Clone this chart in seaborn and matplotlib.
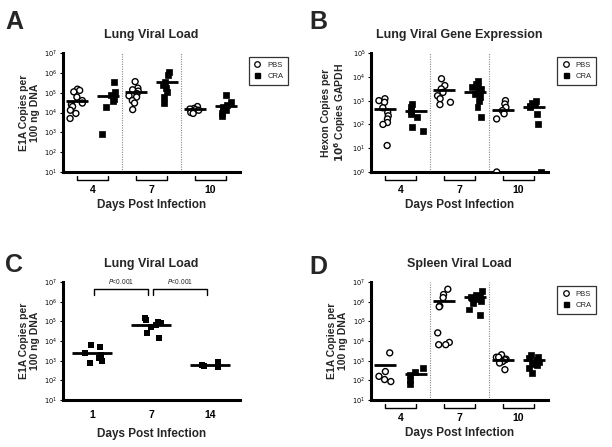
import numpy as np
import pandas as pd
import matplotlib
matplotlib.use("Agg")
import matplotlib.pyplot as plt
import seaborn as sns
from matplotlib.lines import Line2D
from matplotlib.ticker import LogLocator, FuncFormatter, NullLocator

sns.set_theme(style="ticks")
plt.rcParams["font.family"] = ["Liberation Sans", "DejaVu Sans"]
np.random.seed(3)  # only for horizontal jitter of the points

# ---------------- data ----------------
days_abd = ["4", "7", "10"]
days_c = ["1", "7", "14"]
groups = ["PBS", "CRA"]

# Panel A: Lung viral load (E1A copies / 100 ng DNA)
a_pbs_4 = [1.5e5, 1.3e5, 1.1e5, 6e4, 4e4, 3e4, 2.5e4, 2e4, 1.3e4, 9e3, 5e3]
a_cra_4 = [3.5e5, 1.1e5, 7.5e4, 5e4, 4e4, 2e4, 8e2]
a_pbs_7 = [3.6e5, 1.7e5, 1.4e5, 1.2e5, 9e4, 7e4, 6e4, 4e4, 3e4, 1.4e4]
a_cra_7 = [1.05e6, 8e5, 3.6e5, 2.5e5, 1.7e5, 1.1e5, 6e4, 3e4]
a_pbs_10 = [2e4, 1.6e4, 1.5e4, 1.4e4, 1.3e4, 1.1e4, 1e4, 9e3]
a_cra_10 = [8e4, 3.5e4, 2.3e4, 2e4, 1.5e4, 1.3e4, 9e3, 7e3]
a_mean_pbs = [4e4, 1.1e5, 1.5e4]
a_mean_cra = [7e4, 3.6e5, 2.1e4]

# Panel B: Lung viral gene expression (Hexon copies / 10^6 copies GAPDH); zeros drawn at 10^0
b_pbs_4 = [1.2e3, 1e3, 8.5e2, 5e2, 3.2e2, 2.3e2, 1.7e2, 1.2e2, 1e2, 1.3e1]
b_cra_4 = [7e2, 5.6e2, 3.8e2, 2.8e2, 2e2, 7.5e1, 5.4e1]
b_pbs_7 = [8.3e3, 4.3e3, 3.1e3, 2.2e3, 1.6e3, 1.2e3, 8.5e2, 6.8e2]
b_cra_7 = [7e3, 5e3, 4e3, 3.6e3, 3e3, 2.6e3, 2.2e3, 1.9e3, 1.4e3, 1e3, 5.2e2, 2e2]
b_pbs_10 = [1e3, 7.2e2, 5.2e2, 3.8e2, 2.8e2, 1.7e2, 1.0]
b_cra_10 = [1e3, 8e2, 7.2e2, 6e2, 5.2e2, 2.8e2, 1e2, 1.0]
b_mean_pbs = [4.5e2, 2.8e3, 4e2]
b_mean_cra = [3.8e2, 2.2e3, 5.2e2]

# Panel C: Lung viral load, single group
c_1 = [6e3, 5e3, 2.5e3, 2e3, 1.3e3, 1e3, 8e2]
c_7 = [1.4e5, 1.15e5, 9.5e4, 8e4, 6.3e4, 5.2e4, 2.6e4, 1.35e4]
c_14 = [9e2, 6e2, 5.5e2, 4.9e2]
c_mean = [2.6e3, 6.9e4, 6e2]
c_pvals = ["P<0.001", "P<0.001"]

# Panel D: Spleen viral load
d_pbs_4 = [2.5e3, 2.8e2, 1.6e2, 1.1e2, 8.7e1]
d_cra_4 = [4.2e2, 2.8e2, 1.9e2, 1.1e2, 6.6e1]
d_pbs_7 = [4.3e6, 2.3e6, 1.6e6, 6e5, 5.5e5, 2.6e4, 8.5e3, 6.5e3, 6.5e3]
d_cra_7 = [3.5e6, 2.3e6, 2e6, 1.8e6, 1.5e6, 1.3e6, 1.1e6, 8.7e5, 4e5, 2e5]
d_pbs_10 = [2e3, 1.5e3, 1.5e3, 1.2e3, 1.1e3, 9e2, 7.6e2, 3.5e2]
d_cra_10 = [2e3, 1.5e3, 1.3e3, 1.1e3, 9e2, 8.1e2, 7e2, 6.2e2, 4.2e2, 2.3e2]
d_mean_pbs = [6.2e2, 1.07e6, 1.1e3]
d_mean_cra = [2.1e2, 1.7e6, 1.1e3]

GAP = " "
HUE = ["PBS", GAP, "CRA"]
OFF = 0.267


def long_df(pbs_lists, cra_lists, days):
    rows = []
    for d, pl, cl in zip(days, pbs_lists, cra_lists):
        rows += [(d, "PBS", v) for v in pl]
        rows += [(d, "CRA", v) for v in cl]
    return pd.DataFrame(rows, columns=["day", "group", "value"])


def mean_df(mp, mc, days):
    rows = [(d, "PBS", v) for d, v in zip(days, mp)] + [(d, "CRA", v) for d, v in zip(days, mc)]
    return pd.DataFrame(rows, columns=["day", "group", "value"])


def fmt_log(v, pos):
    return r"$10^{%d}$" % int(round(np.log10(v)))


def style_axes(ax, ylo, yhi, days, xpad):
    ax.set_ylim(10.0 ** ylo, 10.0 ** yhi)
    ax.set_xlim(-0.5, len(days) - 0.5)
    ax.yaxis.set_major_locator(LogLocator(base=10, numticks=20))
    ax.yaxis.set_minor_locator(NullLocator())
    ax.yaxis.set_major_formatter(FuncFormatter(fmt_log))
    sns.despine(ax=ax)
    for s in ["left", "bottom"]:
        ax.spines[s].set_linewidth(2.2)
        ax.spines[s].set_color("black")
    ax.tick_params(axis="y", labelsize=4.8, length=2.5, width=0.8, pad=1.5, colors="black")
    ax.tick_params(axis="x", labelsize=7.5, length=0, pad=xpad, colors="black")
    for t in ax.get_xticklabels():
        t.set_fontweight("bold")
    ax.set_xlabel("Days Post Infection", fontsize=8.5, fontweight="bold", labelpad=3)


def grouped_panel(ax, df, mdf, ylo, yhi, ylabel, title):
    pal = {"PBS": "white", GAP: "white", "CRA": "black"}
    sns.stripplot(data=df[df.group == "PBS"], x="day", y="value", hue="group",
                  hue_order=HUE, order=days_abd, dodge=True, jitter=0.36, palette=pal,
                  marker="o", size=4.3, edgecolor="black", linewidth=1.0,
                  legend=False, ax=ax, log_scale=True)
    sns.stripplot(data=df[df.group == "CRA"], x="day", y="value", hue="group",
                  hue_order=HUE, order=days_abd, dodge=True, jitter=0.36, palette=pal,
                  marker="s", size=4.3, edgecolor="black", linewidth=0.5,
                  legend=False, ax=ax, log_scale=True)
    sns.stripplot(data=mdf, x="day", y="value", hue="group", hue_order=HUE,
                  order=days_abd, dodge=True, jitter=False, marker="_", size=16,
                  palette={"PBS": "black", GAP: "black", "CRA": "black"},
                  linewidth=2, legend=False, ax=ax, log_scale=True, zorder=5)
    style_axes(ax, ylo, yhi, days_abd, 9)
    for xv in [0.5, 1.5]:
        ax.axvline(xv, ls=(0, (1, 1.2)), color="#888888", lw=0.8, zorder=0)
    trans = ax.get_xaxis_transform()
    for i in range(len(days_abd)):
        ax.plot([i - OFF, i - OFF, i + OFF, i + OFF], [-0.03, -0.065, -0.065, -0.03],
                transform=trans, color="black", lw=1.0, clip_on=False)
    ax.set_ylabel(ylabel, fontsize=7.5, fontweight="bold", linespacing=1.1, labelpad=3)
    ax.set_title(title, fontsize=9, fontweight="bold", pad=11)
    handles = [Line2D([], [], marker="o", ls="", mfc="white", mec="black", mew=0.9, ms=4),
               Line2D([], [], marker="s", ls="", mfc="black", mec="black", ms=3.6)]
    leg = ax.legend(handles, groups, loc="upper left", bbox_to_anchor=(1.03, 1.0),
                    fontsize=5.5, frameon=True, fancybox=False, edgecolor="black",
                    handlelength=1.0, handletextpad=0.8, borderpad=0.6, labelspacing=0.5)
    leg.get_frame().set_linewidth(0.9)


fig = plt.figure(figsize=(6.12, 4.47), dpi=100)
axA = fig.add_axes([0.1029, 0.6152, 0.2892, 0.2662])
axB = fig.add_axes([0.6062, 0.6152, 0.2892, 0.2662])
axC = fig.add_axes([0.1029, 0.1051, 0.2892, 0.2640])
axD = fig.add_axes([0.6062, 0.1051, 0.2892, 0.2640])

grouped_panel(axA, long_df([a_pbs_4, a_pbs_7, a_pbs_10], [a_cra_4, a_cra_7, a_cra_10], days_abd),
              mean_df(a_mean_pbs, a_mean_cra, days_abd), 1, 7,
              "E1A Copies per\n100 ng DNA", "Lung Viral Load")
grouped_panel(axB, long_df([b_pbs_4, b_pbs_7, b_pbs_10], [b_cra_4, b_cra_7, b_cra_10], days_abd),
              mean_df(b_mean_pbs, b_mean_cra, days_abd), 0, 5,
              "Hexon Copies per\n$\\mathbf{10^6}$ Copies GAPDH", "Lung Viral Gene Expression")
grouped_panel(axD, long_df([d_pbs_4, d_pbs_7, d_pbs_10], [d_cra_4, d_cra_7, d_cra_10], days_abd),
              mean_df(d_mean_pbs, d_mean_cra, days_abd), 1, 7,
              "E1A Copies per\n100 ng DNA", "Spleen Viral Load")

# Panel C
dfc = pd.DataFrame([(d, v) for d, vals in zip(days_c, [c_1, c_7, c_14]) for v in vals],
                   columns=["day", "value"])
mdc = pd.DataFrame({"day": days_c, "value": c_mean})
sns.stripplot(data=dfc, x="day", y="value", order=days_c, color="black", marker="s",
              jitter=0.18, size=4.5, linewidth=0, ax=axC, log_scale=True)
sns.stripplot(data=mdc, x="day", y="value", order=days_c, jitter=False, marker="_",
              size=29, color="black", linewidth=2, ax=axC, log_scale=True, zorder=5)
style_axes(axC, 1, 7, days_c, 7)
axC.set_ylabel("E1A Copies per\n100 ng DNA", fontsize=7.5, fontweight="bold",
               linespacing=1.1, labelpad=3)
axC.xaxis.labelpad = 6
axC.set_title("Lung Viral Load", fontsize=9, fontweight="bold", pad=11)
for i, p in enumerate(c_pvals):
    x0, x1 = i + 0.03, i + 0.94
    axC.plot([x0, x0, x1, x1], [10 ** 6.34, 10 ** 6.64, 10 ** 6.64, 10 ** 6.34],
             color="black", lw=1.0, clip_on=False)
    axC.text((x0 + x1) / 2, 10 ** 6.82, "$\\it{P}$" + p[1:], ha="center", va="bottom",
             fontsize=4.8)

# panel letters
for lab, x, y in [("A", 0.008, 0.95), ("B", 0.505, 0.95), ("C", 0.008, 0.407), ("D", 0.505, 0.403)]:
    fig.text(x, y, lab, fontsize=18, fontweight="bold", ha="left", va="center")

fig.savefig("out.png", dpi=100)
